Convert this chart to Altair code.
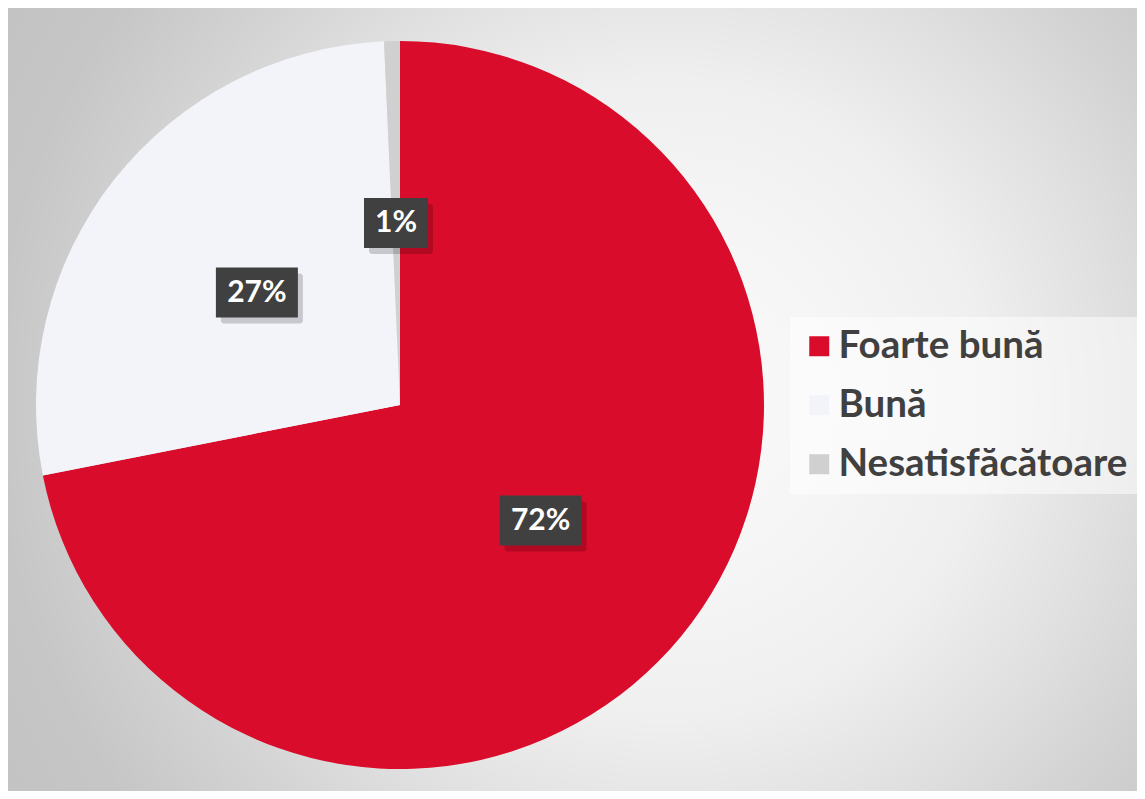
import altair as alt
import pandas as pd

# ---- data ----
categories = ["Foarte bună", "Bună", "Nesatisfăcătoare"]
values = [71.9, 27.4, 0.7]
labels = ["72%", "27%", "1%"]
slice_order = [0, 1, 2]
colors = ["#DA0C2B", "#F3F4FA", "#D0D0D0"]

# ---- layout ----
W, H = 1129, 783
CX, CY = 392, 397
R = 364
LR = 0.5 * R
FONT = "Lato"

df = pd.DataFrame({"cat": categories, "val": values, "label": labels, "ord": slice_order})

xs = alt.Scale(domain=[-CX, W - CX], nice=False, zero=False)
ys = alt.Scale(domain=[-(H - CY), CY], nice=False, zero=False)

# background: tall radial gradient so the light band is vertical-ish
bg = alt.Chart(pd.DataFrame({"a": [0]})).mark_rect(
    fill=alt.RadialGradient(
        gradient="radial",
        x1=0.56, y1=0.5, r1=0.0,
        x2=0.56, y2=0.5, r2=0.55,
        stops=[
            alt.GradientStop(offset=0.0, color="#fafafa"),
            alt.GradientStop(offset=0.21, color="#f5f5f5"),
            alt.GradientStop(offset=0.37, color="#efefef"),
            alt.GradientStop(offset=0.53, color="#dfdfdf"),
            alt.GradientStop(offset=0.64, color="#d3d3d3"),
            alt.GradientStop(offset=0.78, color="#c6c6c6"),
            alt.GradientStop(offset=1.0, color="#bfbfbf"),
        ],
    )
).encode(x=alt.value(0), x2=alt.value(W), y=alt.value(-H / 2), y2=alt.value(H * 1.5))

base = alt.Chart(df)

pie = base.mark_arc(outerRadius=R).encode(
    theta=alt.Theta("val:Q", stack=True),
    color=alt.Color(
        "cat:N",
        scale=alt.Scale(domain=categories, range=colors),
        sort=categories,
        legend=alt.Legend(
            title=None,
            orient="none",
            legendX=782,
            legendY=309,
            fillColor="rgba(255,255,255,0.5)",
            padding=10,
            symbolType="square",
            symbolSize=400,
            symbolStrokeWidth=0,
            labelFont=FONT,
            labelFontWeight="bold",
            labelFontSize=38.5,
            labelColor="#404040",
            labelOffset=0,
            rowPadding=20,
            labelLimit=400,
        ),
    ),
    order=alt.Order("ord:Q"),
    x=alt.value(CX),
    y=alt.value(CY),
)

pos = (
    base.transform_joinaggregate(total="sum(val)")
    .transform_window(cum="sum(val)", sort=[alt.SortField("ord")], frame=[None, 0])
    .transform_calculate(
        mid="(datum.cum - datum.val/2) / datum.total * 2 * PI",
        lx=f"{LR} * sin(datum.mid)",
        ly=f"{LR} * cos(datum.mid)",
        hw="(28 + 18 * length(datum.label)) / 2",
    )
    .transform_calculate(
        bx1="datum.lx - datum.hw",
        bx2="datum.lx + datum.hw",
        by1="datum.ly - 25",
        by2="datum.ly + 25",
        sx1="datum.lx - datum.hw + 5",
        sx2="datum.lx + datum.hw + 5",
        sy1="datum.ly - 25 - 6",
        sy2="datum.ly + 25 - 6",
    )
)

shadow = pos.mark_rect(color="#000000", opacity=0.18, cornerRadius=3).encode(
    x=alt.X("sx1:Q", scale=xs, axis=None),
    x2="sx2:Q",
    y=alt.Y("sy1:Q", scale=ys, axis=None),
    y2="sy2:Q",
)

box = pos.mark_rect(color="#404040").encode(
    x=alt.X("bx1:Q", scale=xs, axis=None),
    x2="bx2:Q",
    y=alt.Y("by1:Q", scale=ys, axis=None),
    y2="by2:Q",
)

txt = pos.mark_text(
    font=FONT, fontWeight="bold", fontSize=30, color="#ffffff",
    align="center", baseline="middle",
).encode(
    x=alt.X("lx:Q", scale=xs, axis=None),
    y=alt.Y("ly:Q", scale=ys, axis=None),
    text="label:N",
)

chart = (
    alt.layer(bg, pie, shadow, box, txt)
    .properties(width=W, height=H, padding=0, autosize=alt.AutoSizeParams(type="none"))
    .configure_view(stroke=None)
)

chart.save("out.html", embed_options={"renderer": "svg", "actions": False})
